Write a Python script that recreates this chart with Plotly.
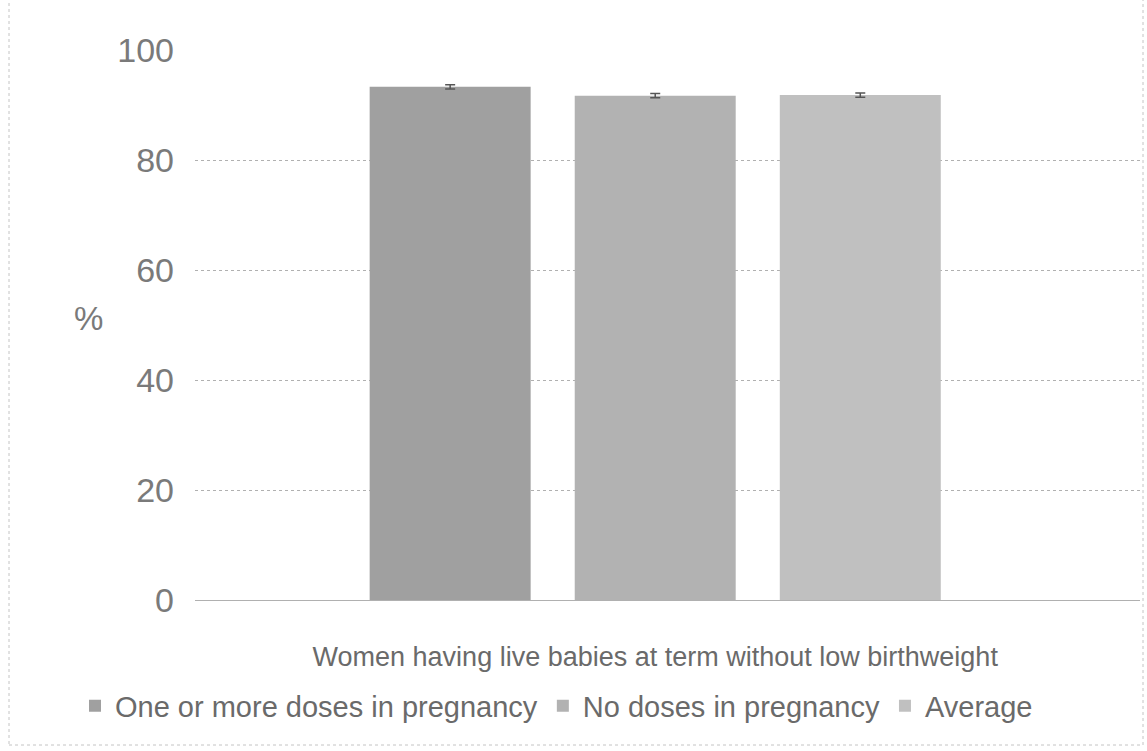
import plotly.graph_objects as go

# Share of women having live babies at term without low birthweight
category = ["Women having live babies at term without low birthweight"]
series_names = ["One or more doses in pregnancy", "No doses in pregnancy", "Average"]
series_values = [93.3, 91.7, 91.8]
series_errors = [0.4, 0.4, 0.4]
series_colors = ["#a0a0a0", "#b2b2b2", "#c0c0c0"]
y_ticks = [0, 20, 40, 60, 80, 100]

W, H = 1147, 751
L, R, T, B = 195, 7, 50, 151
pw, ph = W - L - R, H - T - B


def px_x(x):
    return (x - L) / pw


def px_y(y):
    return (T + ph - y) / ph


fig = go.Figure()
for name, val, err, col in zip(series_names, series_values, series_errors, series_colors):
    fig.add_trace(go.Bar(
        x=category, y=[val], name=name,
        marker=dict(color=col, line=dict(width=0)),
        error_y=dict(type="data", array=[err], color="#555555", thickness=1.5, width=5),
    ))

font = "Liberation Sans, Arial, sans-serif"
fig.update_layout(
    width=W, height=H,
    margin=dict(l=L, r=R, t=T, b=B),
    paper_bgcolor="white", plot_bgcolor="white",
    barmode="group", bargap=0.349, bargroupgap=0.215,
    font=dict(family=font, color="#6a6a6a"),
    showlegend=True,
    legend=dict(
        orientation="h", x=px_x(75), xanchor="left", y=px_y(706), yanchor="middle",
        font=dict(size=29, color="#6a6a6a"), itemwidth=30, traceorder="normal",
        bgcolor="rgba(0,0,0,0)",
    ),
    xaxis=dict(
        range=[-0.487, 0.513], showgrid=False, showline=False, ticks="", ticklabelstandoff=38,
        tickfont=dict(size=27, color="#6a6a6a"),
    ),
    yaxis=dict(
        range=[0, 100], tickvals=y_ticks, showgrid=True, gridcolor="#b0b0b0", gridwidth=1,
        griddash="dot", zeroline=True, zerolinecolor="#b0b0b0", zerolinewidth=1,
        tickfont=dict(size=34, color="#7a7a7a"), ticklabelstandoff=20,
    ),
    annotations=[dict(
        text="%", x=px_x(72), y=px_y(318), xref="paper", yref="paper",
        showarrow=False, font=dict(size=33, color="#7a7a7a"),
    )],
    shapes=[dict(
        type="rect", xref="paper", yref="paper",
        x0=px_x(9), x1=px_x(1143),
        y0=px_y(745), y1=px_y(-10),
        line=dict(color="#c4c4c4", width=1, dash="dot"), layer="below",
    )],
)

fig.write_html("out.html")
